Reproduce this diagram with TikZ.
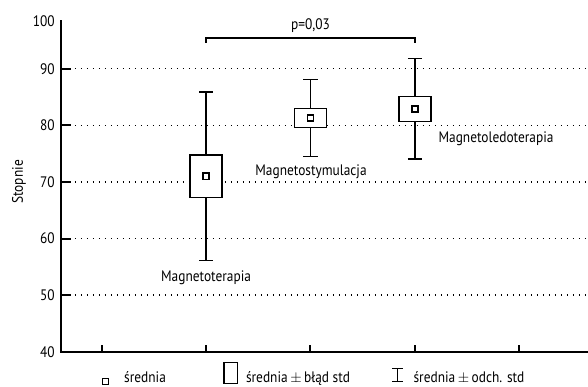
\documentclass[tikz,border=0pt]{standalone}
\usepackage{fontspec}
\setmainfont{PT Sans}[FakeStretch=0.88]
\usepackage{tikz}
\usetikzlibrary{positioning}

\begin{document}
\begin{tikzpicture}[
    x=78.3pt, y=4.245pt,
    font=\fontsize{11.4}{13}\selectfont,
    axis/.style={line width=1.5pt},
    gridline/.style={line width=1pt, dash pattern=on 1pt off 3.5pt},
    sebox/.style={rectangle, draw, fill=white, line width=1.2pt, minimum width=24pt, inner sep=0pt},
    meanbox/.style={rectangle, draw, fill=white, line width=1.1pt, minimum size=4.6pt, inner sep=0pt},
    whisker/.style={line width=1.2pt},
    lbl/.style={inner sep=0pt}
]
    \useasboundingbox (0.026,33.94) rectangle (5.658,102.14);

    % --- 1. Grid and axes ---
    \foreach \v in {50,60,...,90}
        \draw[gridline] (0.744,\v) -- (5.658,\v);
    \coordinate (origin) at (0.61,40);
    \coordinate (ytop) at (0.61,98.6);
    \coordinate (xend) at (5.658,40);
    \draw[axis] (ytop) -- (origin) -- (xend);
    \foreach \v in {50,60,...,90}
        \draw[axis] (0.61,\v) -- ++(0.1,0);
    \foreach \c in {1,...,5}
        \draw[axis] (\c,40) -- ++(0,1.24);

    \foreach \v in {40,50,...,90}
        \node[lbl, anchor=east] (t\v) at (0.553,\v) {\v};
    \node[lbl, anchor=east] (t100) at (0.553,98.4) {100};
    \node[lbl, rotate=90] (ylabel) at (0.208,70) {Stopnie};

    % --- 2. Groups ---
    \foreach \c/\m/\se/\sd/\name in {2/71/3.75/14.85/g1, 3/81.3/1.7/6.8/g2, 4/82.9/2.2/8.9/g3}{
        \coordinate (\name top) at (\c,\m+\sd);
        \coordinate (\name bot) at (\c,\m-\sd);
        \draw[whisker] (\name bot) -- (\name top);
        \draw[whisker] ([xshift=-5.3pt]\name top) -- ([xshift=5.3pt]\name top);
        \draw[whisker] ([xshift=-5.3pt]\name bot) -- ([xshift=5.3pt]\name bot);
        \node[sebox, minimum height=2*\se*4.245pt] (\name box) at (\c,\m) {};
        \node[meanbox] (\name mean) at (\c,\m) {};
    }

    \node[lbl, anchor=base] (n1) at (2,52.44) {Magnetoterapia};
    \node[lbl, anchor=base] (n2) at (3.005,71.2) {Magnetostymulacja};
    \node[lbl, anchor=base] (n3) at (4.777,76.9) {Magnetoledoterapia};

    % --- 3. Significance bracket ---
    \coordinate (pl) at (2,94.6);
    \coordinate (pr) at (4,94.6);
    \draw[line width=1.4pt] (pl) -- ++(0,0.9) -| (pr);
    \node[lbl, anchor=base] (pval) at (3,96.96) {p=0,03};

    % --- 4. Legend ---
    \node[meanbox, line width=0.9pt, minimum size=4.3pt] (lmean) at (1.038,34.73) {};
    \node[lbl, anchor=base west] (lmeantxt) at (1.213,34.55) {średnia};
    \node[rectangle, draw, line width=0.8pt, minimum width=10.3pt, minimum height=15.6pt, inner sep=0pt] (lbox) at (2.237,36.18) {};
    \node[lbl, anchor=base west] (lboxtxt) at (2.38,34.55) {średnia\,$\pm$\,błąd std};
    \coordinate (lwtop) at (3.836,37.12);
    \coordinate (lwbot) at (3.836,34.7);
    \draw[line width=0.7pt] (lwbot) -- (lwtop);
    \draw[line width=0.7pt] ([xshift=-4pt]lwtop) -- ([xshift=4pt]lwtop);
    \draw[line width=0.7pt] ([xshift=-4pt]lwbot) -- ([xshift=4pt]lwbot);
    \node[lbl, anchor=base west] (lwtxt) at (3.985,34.55) {średnia\,$\pm$\,odch. std};

\end{tikzpicture}
\end{document}
